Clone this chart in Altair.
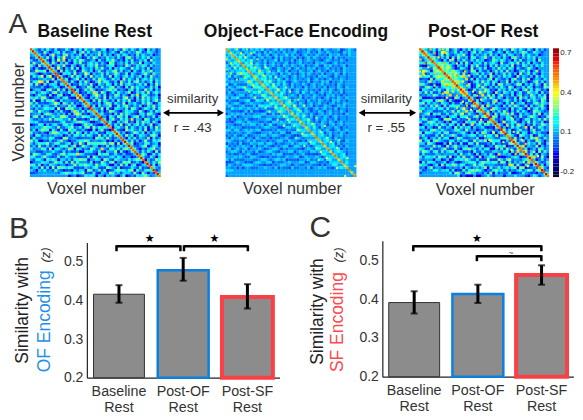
import altair as alt
import pandas as pd

FONT = "Liberation Sans"
INK = "#222222"
BLUE = "#0b80e0"
RED = "#f94044"
BLUE_TXT = "#1f90e8"
RED_TXT = "#fb4a50"

# Voxel similarity maps: upper triangle of each symmetric matrix, base-36 levels
BASELINE = [
"a5314 2631 5122 6304 2516 3372 1450 3263 1742 5315 3062 4131",
"a421 7302 4615 1236 0472 5133 6241 3520 6314 2375 1264 313",
"a51 3048 2316 7241 3605 1423 7152 4036 2541 3162 5324 02",
"a4 2716 0539 2143 6301 5274 1326 3415 2067 3142 5361 4",
"a 6205 193a 0416 3752 1340 6215 4731 3052 6124 3507",
"a5 1730 4261 0537 2146 3514 2076 1342 5163 2704 315",
"a4 0263 7105 3026 1453 7231 4560 2317 4125 3641 52",
"a 5193 0427 1605 3241 6372 1504 3642 1735 2416 03",
"a4 0715 3260 1742 5036 2143 6725 1340 5216 3472",
"a 2064 5171 3295 0423 6152 3741 2605 3124 7316",
"a5 1037 2640 5182 4361 2705 3146 2523 6041 732",
"a 3602 4715 0316 2754 1263 4072 5316 1453 624",
"a4 1620 5273 0148 3652 1407 3261 5724 1360 5",
"a 5021 6342 7105 3264 0517 2463 1352 6041 7",
"b4 6013 2750 4162 3571 4206 1735 3412 6250",
"a 1502 6374 0213 5746 1320 4615 2173 5042",
"a4 0215 3a61 7402 5163 2470 1536 2714 63",
"a 7130 2594 1603 2751 4206 3a15 6312 40",
"b5 1042 6317 0524 3168 2405 1736 2451",
"a 4306 1725 3140 6253 7104 2635 1472",
"a6 3125 0476 1532 7043 5216 3740 15",
"a 1605 2347 0162 5731 4260 1537 24",
"b4 3270 6105 4326 1752 0364 2615",
"a 5140 2763 1036 4521 7302 5164",
"a4 6213 0517 3642 1045 2763 10",
"a 2306 4175 2603 5714 1326 04",
"b5 0472 1636 2a14 3075 1243",
"a 3610 5247 1306 2745 1630",
"a4 1527 0361 4625 1370 24",
"a 0463 2715 3142 6051 73",
"b5 2107 4632 5170 3264",
"a 6240 1375 2604 1532",
"a4 1736 0254 3167 40",
"a 3052 6143 2705 13",
"b5 2614 0372 1546",
"a 4701 3265 1340",
"a4 2135 7026 41",
"a 6203 1457 23",
"b4 1526 3071",
"a 3740 1625",
"a5 2163 04",
"a 0412 75",
"b4 2537",
"a 1604",
"a5 32",
"a 1",
"b4",
"a"]
ENCODING = [
"5434 3243 2434 3523 2342 4323 1432 3243 2341 4323 3412 3432",
"543 4324 3352 3142 4323 2423 3412 3342 3143 2432 3214 343",
"65 3452 4313 4234 1342 3352 4231 3423 2432 3143 3423 24",
"5 4635 3241 3423 3142 4232 3413 1342 4323 2341 4232 3",
"6 4534 6313 2423 3514 2324 1342 3432 3213 4323 2431",
"5 3645 2432 4134 2323 4132 3423 2314 3432 1342 323",
"6 4563 4325 2342 3143 2432 3413 2342 1434 2323 41",
"5 3654 4235 3124 3234 1342 3243 4132 3423 2314 3",
"6 4537 4342 3253 2413 3243 2341 3423 1342 3243",
"5 3465 2434 3142 3423 1342 4323 2413 3243 142",
"6 5346 3524 2343 1342 3423 2314 3432 1423 32",
"6 4563 4325 3142 3423 2341 3423 1342 3243 2",
"5 3645 3243 5213 4323 2413 3243 4132 3423",
"6 4536 3425 3142 3243 1342 3423 2314 323",
"5 3465 2343 2423 3142 3423 2413 3243 14",
"6 4346 3524 1342 3423 2314 3243 1342 3",
"5 3634 4232 3415 3243 1342 3423 2413",
"5 4453 2343 1423 3243 2314 3423 132",
"6 3464 3232 4132 3423 1342 3243 24",
"5 4345 2423 3142 3243 2314 3423 1",
"5 3564 3243 1342 3423 1342 3243",
"6 4436 2342 3413 2243 3124 342",
"5 3354 3242 1342 3423 2413 32",
"5 4346 2431 3243 1342 3243 1",
"6 3534 3242 1342 3423 2314",
"5 4353 2413 3243 1342 332",
"5 3445 3142 3423 2413 32",
"6 4353 2314 3243 1342 3",
"5 3445 2342 1342 3423",
"5 4363 1423 3243 132",
"6 3434 2342 1342 34",
"5 4345 1342 3243 1",
"5 3453 2413 3423",
"6 4345 3142 323",
"5 3453 2342 14",
"5 4345 1423 3",
"6 3453 2314",
"5 4345 132",
"5 3454 32",
"6 4345 1",
"5 3453",
"5 434",
"6 35",
"5 4",
"6 3",
"53",
"5",
"5"]
POST_OF = [
"a6423 5162 4713 6204 2615 3472 1350 4263 1742 5315 3062 4131",
"b73 1503 9a42 3615 2304 7152 3461 2530 6314 2475 1264 313",
"b6 4203 7152 1364 7205 1423 5162 4036 2541 3162 5324 02",
"b 5731 4260 5173 2406 5134 7216 3415 2067 3142 5361 4",
"a 6420 5173 0426 3152 6340 1275 3641 3052 6124 3507",
"b5 7635 1420 6172 0435 1624 5307 2146 3715 2604 315",
"a6 8576 2043 1506 3721 4052 6143 5270 3164 2415 36",
"b 7685 3016 4207 1352 6014 2735 1640 5213 7420 3",
"a6 7586 4203 1760 5214 0362 5172 3014 6250 3714",
"b 6768 5172 0346 1523 7041 3625 1407 2361 5204",
"a7 6857 a420 3162 5073 1426 3510 7243 1406 253",
"b 6754 3a16 0523 1470 6321 4057 2163 7024 315",
"b7 a532 0146 2735 1640 3270 5142 6301 4725 1",
"a 6432 7015 3264 1507 6243 1376 0425 1630 7",
"b7 4350 1627 3041 5263 1740 3251 6403 2175",
"a a301 6243 7512 0634 1526 3047 2516 4130",
"b7 3102 9415 2073 1642 5036 1274 3506 12",
"a 4160 3a25 1604 7231 5046 1327 4152 60",
"b6 2013 6274 1530 4216 0735 1462 3570",
"a 1604 3215 7024 6315 1402 6253 1740",
"a7 3 0251 6143 0527 1346 0215 7364",
"b 2706 3142 0516 3741 2605 1347 20",
"a6 4 1075 3214 0613 5207 1462 530",
"b 3604 1527 3041 6253 0176 4312",
"a7 2 0415 6237 1052 4316 2704",
"b 1760 3254 0316 2147 5302 16",
"a6 2 1305 4713 0265 1436 27",
"b 4017 2356 1042 7163 2501",
"a6 3 0625 1744 0316 2375",
"b 1402 6351 3a07 1264 1",
"a7 2 5014 6230 4712 53",
"b 3602 7154 0263 4120",
"a6 4 1075 3260 1642",
"b 2713 0426 5a31 6",
"a7 1 3604 2175 30",
"b 5120 6341 7205",
"a6 a 1432 7041",
"b 3602 4175 2",
"a7 1 4307 26",
"b 2615 0431",
"a6 a 3172 0",
"b 4025 13",
"a6 3 126",
"b 2604",
"a7 31",
"b 2",
"a5",
"b"]

# Thin ridge samples along each map's diagonal, by offset from the main diagonal
RIDGES_BASELINE = {0: "dedcedecdedcedecddecedcdecedcedcedecdedcedecddecedcdecedcedcedec"}
RIDGES_ENCODING = {
 0: "bcabcbacbcabcbaccbabcbacabcbacbcabcbacbabcabcbacabcabcbacbabcabc",
 5: "8.9.8..9.8.a.9..8.8.9.7.8.a.9.8..7.8.9...8..7.9..8....8...9",
 10: "7.8..7...8.7..8....7.8...7..8.....7...8......7....",
}
RIDGES_POST = {
 0: "dedcedecdedcedecddecedcdecedcedcedecdedcedecddecedcdecedcedcedec",
 5: "a.b.9..a.9.a.b..9.a..9.a.9..a.9.8...9.a..8...9.a...8.9...",
 11: "9.8..9.8...a.9....8..9.8..a.....9.8...7.....8...",
}

LEVEL_STEP = 0.05
LEVEL_MIN = -0.1
CMAP_STOPS = [-0.2, -0.0875, 0.025, 0.1375, 0.25, 0.3625, 0.475, 0.5875, 0.7]
CMAP_COLS = ["#00007f", "#0000ff", "#007fff", "#00ffff", "#7fff7f", "#ffff00", "#ff7f00", "#ff0000", "#7f0000"]
CBAR_LEVELS = [-0.26, -0.24, -0.22, -0.2, -0.18, -0.16, -0.14, -0.12, -0.1, -0.08, -0.06, -0.04, -0.02, 0.0, 0.02, 0.04,
               0.06, 0.08, 0.1, 0.12, 0.14, 0.16, 0.18, 0.2, 0.22, 0.24, 0.26, 0.28, 0.3, 0.32, 0.34, 0.36, 0.38, 0.4,
               0.42, 0.44, 0.46, 0.48, 0.5, 0.52, 0.54, 0.56, 0.58, 0.6, 0.62, 0.64, 0.66, 0.68, 0.7]

CATS = ["Baseline Rest", "Post-OF Rest", "Post-SF Rest"]
B_MEAN = [0.416, 0.478, 0.409]
B_LOW = [0.394, 0.451, 0.379]
B_HIGH = [0.4395, 0.51, 0.442]
C_MEAN = [0.391, 0.413, 0.462]
C_LOW = [0.363, 0.39, 0.437]
C_HIGH = [0.42, 0.437, 0.487]
Y_TICKS = [0.2, 0.3, 0.4, 0.5]
Y_MIN, Y_MAX = 0.2, 0.55

ONE = pd.DataFrame({"k": [0]})


def level(c):
    return round(LEVEL_MIN + LEVEL_STEP * int(c, 36), 3)


def text(s, x, y, size=14, color=INK, **kw):
    return alt.Chart(ONE).mark_text(text=s, font=FONT, fontSize=size, color=color, **kw).encode(
        x=alt.value(x), y=alt.value(y))


def hline(x1, x2, y, w=2.5):
    return alt.Chart(ONE).mark_rule(color="black", strokeWidth=w).encode(
        x=alt.value(x1), x2=alt.value(x2), y=alt.value(y))


def vline(x, y1, y2, w=2.5):
    return alt.Chart(ONE).mark_rule(color="black", strokeWidth=w).encode(
        x=alt.value(x), y=alt.value(y1), y2=alt.value(y2))


def bracket(x1, x2, y, drop=5):
    return [hline(x1, x2, y), vline(x1, y - 1, y + drop), vline(x2, y - 1, y + drop)]


def arrow(x1, x2, y):
    head = dict(filled=True, size=55, color="black", opacity=1)
    return [
        hline(x1 + 3, x2 - 3, y, 2),
        alt.Chart(ONE).mark_point(shape="triangle-left", **head).encode(x=alt.value(x1 + 3), y=alt.value(y)),
        alt.Chart(ONE).mark_point(shape="triangle-right", **head).encode(x=alt.value(x2 - 3), y=alt.value(y)),
    ]


cmap = alt.Scale(domain=CMAP_STOPS, range=CMAP_COLS)


def heat(rows, ridges, x0, x1, y0=40, y1=169):
    n = len(rows)
    clean = [r.replace(" ", "") for r in rows]
    recs = []
    for i, r in enumerate(clean):
        r = r.ljust(n - i, "3")[: n - i]
        for k, c in enumerate(r):
            j = i + k
            v = level(c)
            recs.append(dict(x=j, x2=j + 1.08, y=i, y2=i + 1.08, v=v))
            if j != i:
                recs.append(dict(x=i, x2=i + 1.08, y=j, y2=j + 1.08, v=v))
    fine = []
    unit = n / 64
    for off, s in ridges.items():
        for i, c in enumerate(s):
            if c == ".":
                continue
            v = level(c)
            a, b = unit * (i + off), unit * i
            fine.append(dict(x=a, x2=a + unit * 1.06, y=b, y2=b + unit * 1.06, v=v))
            if off:
                fine.append(dict(x=b, x2=b + unit * 1.06, y=a, y2=a + unit * 1.06, v=v))
    fine = [f for f in fine if f["x"] < n and f["y"] < n]
    sx = alt.Scale(domain=[0, n], range=[x0, x1], nice=False, zero=False, clamp=True)
    sy = alt.Scale(domain=[0, n], range=[y0, y1], nice=False, zero=False, clamp=True)

    def layer(data):
        return alt.Chart(pd.DataFrame(data)).mark_rect(strokeWidth=0).encode(
            x=alt.X("x:Q", scale=sx, axis=None), x2="x2:Q",
            y=alt.Y("y:Q", scale=sy, axis=None), y2="y2:Q",
            color=alt.Color("v:Q", scale=cmap, legend=None))

    return layer(recs) + layer(fine)


cb = alt.Chart(pd.DataFrame({"v": CBAR_LEVELS[:-1], "v2": CBAR_LEVELS[1:]})).mark_rect(strokeWidth=0).encode(
    x=alt.value(546), x2=alt.value(552),
    y=alt.Y("v:Q", scale=alt.Scale(domain=[-0.26, 0.7], range=[169, 40], nice=False, zero=False), axis=None),
    y2="v2:Q",
    color=alt.Color("v:Q", scale=cmap, legend=None))

top_layers = [
    heat(BASELINE, RIDGES_BASELINE, 22, 153),
    heat(ENCODING, RIDGES_ENCODING, 218, 349),
    heat(POST_OF, RIDGES_POST, 412, 542),
    cb,
    text("A", 0.5, 17, size=28, align="left", color="#333333"),
    text("Baseline Rest", 87, 24, size=17.5, fontWeight="bold", color="#111111"),
    text("Object-Face Encoding", 288.5, 24, size=17.5, fontWeight="bold", color="#111111"),
    text("Post-OF Rest", 476, 24, size=17.5, fontWeight="bold", color="#111111"),
    text("Voxel number", 88.5, 181, size=16.2, color="#333333"),
    text("Voxel number", 285, 181, size=16.2, color="#333333"),
    text("Voxel number", 478, 182, size=16.2, color="#333333"),
    text("Voxel number", 11, 104, size=16.2, angle=270, color="#333333"),
    text("similarity", 185, 91, size=13.2, color="#333333"),
    text("r = .43", 185, 120, size=13.2, color="#333333"),
    text("similarity", 379, 91, size=13.2, color="#333333"),
    text("r = .55", 379, 120, size=13.2, color="#333333"),
    text("0.7", 553.3, 44.5, size=8, align="left"),
    text("0.4", 553.3, 85, size=8, align="left"),
    text("0.1", 553.3, 123.5, size=8, align="left"),
    text("-0.2", 553.3, 163.5, size=8, align="left"),
]
top_layers += arrow(155.5, 216, 104.7) + arrow(351.5, 408.7, 104.7)
top = alt.layer(*top_layers).resolve_scale(x="independent", y="independent").properties(width=567, height=197)


def bars(means, lows, highs, x0, x1, y_base, y_top, cell_w, extras):
    df = pd.DataFrame({"cat": CATS, "m": means, "lo": lows, "hi": highs, "base": [Y_MIN] * 3})
    sx = alt.Scale(domain=CATS, range=[x0, x1], paddingInner=0, paddingOuter=0)
    sy = alt.Scale(domain=[Y_MIN, Y_MAX], range=[y_base, y_top], nice=False, zero=False)
    X = alt.X("cat:N", sort=CATS, scale=sx, title=None, axis=alt.Axis(
        labelExpr="split(datum.label, ' ')", labelAngle=0, labelFont=FONT, labelFontSize=14.3,
        labelColor="#333333", labelLineHeight=16, tickSize=0, labelPadding=7, offset=y_base - 207,
        domainColor="#222222", domainWidth=1.2, grid=False))
    Y = alt.Y("m:Q", scale=sy, title=None, axis=alt.Axis(
        values=Y_TICKS, format=".1f", labelFont=FONT, labelFontSize=14, labelColor="#333333",
        tickSize=0, labelPadding=4, offset=-x0, domainColor="#222222", domainWidth=1.2, grid=False))
    b = alt.Chart(df).mark_bar(size=51, fill="#8c8c8c").encode(
        x=X, y=Y, y2="base:Q",
        stroke=alt.Stroke("cat:N", scale=alt.Scale(domain=CATS, range=["#333333", BLUE, RED]), legend=None),
        strokeWidth=alt.StrokeWidth("cat:N", scale=alt.Scale(domain=CATS, range=[1, 4, 4]), legend=None))
    e = alt.Chart(df).mark_rule(color="black", strokeWidth=3).encode(
        x=alt.X("cat:N", sort=CATS, scale=sx), y=alt.Y("lo:Q", scale=sy), y2="hi:Q")
    t1 = alt.Chart(df).mark_tick(color="black", orient="horizontal", size=7, thickness=2).encode(
        x=alt.X("cat:N", sort=CATS, scale=sx), y=alt.Y("lo:Q", scale=sy))
    t2 = alt.Chart(df).mark_tick(color="black", orient="horizontal", size=7, thickness=2).encode(
        x=alt.X("cat:N", sort=CATS, scale=sx), y=alt.Y("hi:Q", scale=sy))
    return alt.layer(b, e, t1, t2, *extras).properties(width=cell_w, height=207)


def star(x, y):
    return alt.Chart(ONE).mark_text(text="\u2605", fontSize=11, color="black", font="DejaVu Sans").encode(
        x=alt.value(x), y=alt.value(y))


panel_b = bars(B_MEAN, B_LOW, B_HIGH, 79, 272, 173, 37.5, 282, [
    text("B", 1, 24, size=30, align="left", color="#333333"),
    text("Similarity with", 20.3, 105.5, size=17.5, angle=270, baseline="alphabetic", color="#222222"),
    text("OF Encoding", 42, 116.5, size=17.5, angle=270, baseline="alphabetic", color=BLUE_TXT),
    text("(z)", 42, 50, size=13, angle=270, baseline="alphabetic", color="#333333", fontStyle="italic"),
    star(142, 34), star(206.7, 34),
    *bracket(108.7, 172.7, 41.3), *bracket(176.3, 240.3, 41.3),
])
panel_c = bars(C_MEAN, C_LOW, C_HIGH, 93, 284.4, 172, 35.9, 285, [
    text("C", 20, 23, size=30, align="left", color="#333333"),
    text("Similarity with", 33.3, 106.7, size=17.5, angle=270, baseline="alphabetic", color="#222222"),
    text("SF Encoding", 54, 117.3, size=17.5, angle=270, baseline="alphabetic", color=RED_TXT),
    text("(z)", 54, 50, size=13, angle=270, baseline="alphabetic", color="#333333", fontStyle="italic"),
    star(187.7, 34),
    text("~", 221.7, 48.5, size=9, color="#555555"),
    *bracket(124, 252.3, 41.3), *bracket(187.7, 252.3, 51.3),
])

chart = alt.vconcat(
    top,
    alt.hconcat(panel_b, panel_c, spacing=0, bounds="flush"),
    spacing=0, bounds="flush",
).properties(padding=0).configure_view(stroke=None)

chart.save("out.html", embed_options={"renderer": "svg", "actions": False})
